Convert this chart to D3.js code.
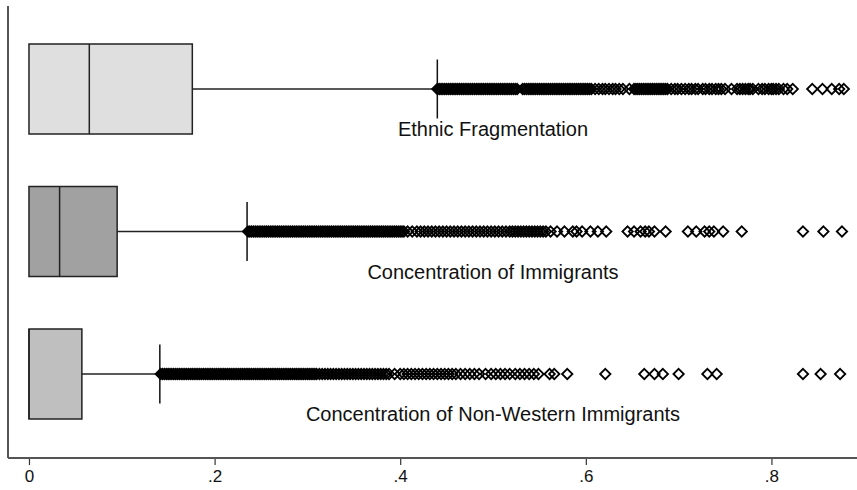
<!DOCTYPE html>
<html>
<head>
<meta charset="utf-8">
<script src="https://cdn.jsdelivr.net/npm/d3@7"></script>
<style>
  body { margin: 0; background: #fff; }
  svg { display: block; font-family: 'Liberation Sans', Arial, sans-serif; }
</style>
</head>
<body>
<div id="root"></div>
<script>
// ---------------------------------------------------------------- data
const categories = ['Ethnic Fragmentation', 'Concentration of Immigrants', 'Concentration of Non-Western Immigrants'];
const q1 = [0, 0, 0];
const median = [0.065, 0.033, 0];
const q3 = [0.176, 0.095, 0.057];
const upperWhisker = [0.440, 0.235, 0.141];
const xTicks = [0, 0.2, 0.4, 0.6, 0.8];
const xTickLabels = ['0', '.2', '.4', '.6', '.8'];

const outliersEthnic = [
  0.440, 0.442, 0.444, 0.446, 0.448, 0.450, 0.452, 0.454, 0.456, 0.458, 0.460, 0.462,
  0.464, 0.466, 0.468, 0.470, 0.472, 0.474, 0.476, 0.478, 0.480, 0.482, 0.484, 0.486,
  0.488, 0.490, 0.492, 0.494, 0.496, 0.498, 0.500, 0.502, 0.504, 0.506, 0.508, 0.510,
  0.512, 0.514, 0.516, 0.518, 0.520, 0.522, 0.524, 0.526, 0.532, 0.534, 0.536, 0.538,
  0.540, 0.542, 0.544, 0.546, 0.548, 0.550, 0.552, 0.554, 0.556, 0.558, 0.560, 0.562,
  0.564, 0.566, 0.568, 0.570, 0.572, 0.574, 0.576, 0.578, 0.580, 0.582, 0.584, 0.586,
  0.588, 0.590, 0.592, 0.594, 0.596, 0.598, 0.600, 0.602, 0.604, 0.606, 0.610, 0.614,
  0.618, 0.621, 0.625, 0.629, 0.632, 0.636, 0.640, 0.647, 0.652, 0.654, 0.656, 0.658,
  0.660, 0.662, 0.664, 0.666, 0.668, 0.670, 0.672, 0.674, 0.676, 0.678, 0.680, 0.682,
  0.684, 0.686, 0.688, 0.692, 0.696, 0.699, 0.703, 0.707, 0.711, 0.714, 0.718, 0.721,
  0.726, 0.729, 0.733, 0.736, 0.740, 0.743, 0.746, 0.750, 0.757, 0.763, 0.766, 0.769,
  0.772, 0.775, 0.777, 0.780, 0.786, 0.790, 0.793, 0.797, 0.800, 0.802, 0.805, 0.808,
  0.813, 0.817, 0.823, 0.844, 0.855, 0.865, 0.873, 0.878
];
const outliersImmigrants = [
  0.236, 0.238, 0.240, 0.242, 0.244, 0.246, 0.248, 0.250, 0.252, 0.254, 0.256, 0.258,
  0.260, 0.262, 0.264, 0.266, 0.268, 0.270, 0.272, 0.274, 0.276, 0.278, 0.280, 0.282,
  0.284, 0.286, 0.288, 0.290, 0.292, 0.294, 0.296, 0.298, 0.300, 0.302, 0.304, 0.306,
  0.308, 0.310, 0.312, 0.314, 0.316, 0.318, 0.320, 0.322, 0.324, 0.326, 0.328, 0.330,
  0.332, 0.334, 0.336, 0.338, 0.340, 0.342, 0.344, 0.346, 0.348, 0.350, 0.352, 0.354,
  0.356, 0.358, 0.360, 0.362, 0.364, 0.366, 0.368, 0.370, 0.372, 0.374, 0.376, 0.378,
  0.380, 0.382, 0.384, 0.386, 0.388, 0.390, 0.392, 0.394, 0.396, 0.398, 0.400, 0.402,
  0.404, 0.408, 0.413, 0.418, 0.422, 0.426, 0.430, 0.434, 0.438, 0.442, 0.446, 0.450,
  0.454, 0.458, 0.462, 0.466, 0.470, 0.474, 0.478, 0.482, 0.486, 0.490, 0.494, 0.498,
  0.502, 0.506, 0.510, 0.514, 0.518, 0.521, 0.524, 0.527, 0.530, 0.533, 0.536, 0.539,
  0.542, 0.545, 0.548, 0.551, 0.554, 0.557, 0.562, 0.569, 0.577, 0.586, 0.590, 0.596,
  0.605, 0.613, 0.622, 0.645, 0.652, 0.659, 0.664, 0.668, 0.674, 0.686, 0.710, 0.719,
  0.728, 0.733, 0.738, 0.748, 0.768, 0.834, 0.856, 0.876
];
const outliersNonWestern = [
  0.142, 0.144, 0.146, 0.148, 0.150, 0.152, 0.154, 0.156, 0.158, 0.160, 0.162, 0.164,
  0.166, 0.168, 0.170, 0.172, 0.174, 0.176, 0.178, 0.180, 0.182, 0.184, 0.186, 0.188,
  0.190, 0.192, 0.194, 0.196, 0.198, 0.200, 0.202, 0.204, 0.206, 0.208, 0.210, 0.212,
  0.214, 0.216, 0.218, 0.220, 0.222, 0.224, 0.226, 0.228, 0.230, 0.232, 0.234, 0.236,
  0.238, 0.240, 0.242, 0.244, 0.246, 0.248, 0.250, 0.252, 0.254, 0.256, 0.258, 0.260,
  0.262, 0.264, 0.266, 0.268, 0.270, 0.272, 0.274, 0.276, 0.278, 0.280, 0.282, 0.284,
  0.286, 0.288, 0.290, 0.292, 0.294, 0.296, 0.298, 0.300, 0.302, 0.304, 0.306, 0.308,
  0.310, 0.313, 0.316, 0.319, 0.322, 0.325, 0.328, 0.331, 0.334, 0.337, 0.340, 0.343,
  0.346, 0.349, 0.352, 0.355, 0.358, 0.361, 0.364, 0.367, 0.370, 0.373, 0.376, 0.379,
  0.382, 0.385, 0.388, 0.394, 0.400, 0.404, 0.408, 0.412, 0.416, 0.420, 0.424, 0.428,
  0.432, 0.436, 0.440, 0.444, 0.448, 0.452, 0.456, 0.460, 0.465, 0.470, 0.475, 0.480,
  0.485, 0.492, 0.498, 0.503, 0.508, 0.513, 0.518, 0.524, 0.529, 0.534, 0.539, 0.544,
  0.549, 0.561, 0.566, 0.580, 0.621, 0.663, 0.674, 0.683, 0.700, 0.731, 0.741, 0.834,
  0.853, 0.874
];
const outliers = [outliersEthnic, outliersImmigrants, outliersNonWestern];
const boxFill = ['#dfdfdf', '#a1a1a1', '#bfbfbf'];

//-----------------------------------------------------------------------
const width = 857;
const height = 490;
const plotLeft = 8;
const plotRight = 857;
const plotTop = 6;
const plotBottom = 458;
const boxHeight = 90;
const capHeight = 59;

const svg = d3.select('#root')
  .append('svg')
  .attr('width', width)
  .attr('height', height);

svg.append('rect')
  .attr('width', width)
  .attr('height', height)
  .attr('fill', '#fff');

const xScale = d3.scaleLinear()
  .domain([-0.0226, 0.8922])
  .range([plotLeft, plotRight]);

const yScale = d3.scalePoint()
  .domain(categories)
  .range([89, 374]);

// axes
svg.append('line')
  .attr('x1', plotLeft).attr('x2', plotLeft)
  .attr('y1', plotTop).attr('y2', plotBottom)
  .attr('stroke', '#555').attr('stroke-width', 2);

const xAxis = d3.axisBottom(xScale)
  .tickValues(xTicks)
  .tickSize(7)
  .tickPadding(5)
  .tickFormat((d, i) => xTickLabels[i]);

const xAxisG = svg.append('g')
  .attr('transform', `translate(0, ${plotBottom})`)
  .call(xAxis);
xAxisG.select('.domain').remove();
xAxisG.selectAll('.tick line').attr('stroke', '#333').attr('stroke-width', 1.2);
xAxisG.selectAll('.tick text')
  .attr('fill', '#111')
  .style('font-size', '17px')
  .style('font-family', "'Liberation Sans', Arial, sans-serif");

svg.append('line')
  .attr('x1', plotLeft).attr('x2', plotRight)
  .attr('y1', plotBottom).attr('y2', plotBottom)
  .attr('stroke', '#555').attr('stroke-width', 2);

// boxes
const groups = svg.selectAll('g.box')
  .data(categories)
  .enter()
  .append('g')
  .attr('class', 'box')
  .attr('transform', (d) => `translate(0, ${yScale(d)})`);

groups.append('line')
  .attr('x1', (d, i) => xScale(q3[i]))
  .attr('x2', (d, i) => xScale(upperWhisker[i]))
  .attr('y1', 0).attr('y2', 0)
  .attr('stroke', '#222').attr('stroke-width', 1.3);

groups.append('line')
  .attr('x1', (d, i) => xScale(upperWhisker[i]))
  .attr('x2', (d, i) => xScale(upperWhisker[i]))
  .attr('y1', -capHeight / 2).attr('y2', capHeight / 2)
  .attr('stroke', '#111').attr('stroke-width', 1.5);

groups.append('rect')
  .attr('x', (d, i) => xScale(q1[i]))
  .attr('y', -boxHeight / 2)
  .attr('width', (d, i) => xScale(q3[i]) - xScale(q1[i]))
  .attr('height', boxHeight)
  .attr('fill', (d, i) => boxFill[i])
  .attr('stroke', '#222')
  .attr('stroke-width', 1.5);

groups.append('line')
  .attr('x1', (d, i) => xScale(median[i]))
  .attr('x2', (d, i) => xScale(median[i]))
  .attr('y1', -boxHeight / 2).attr('y2', boxHeight / 2)
  .attr('stroke', '#222').attr('stroke-width', 1.5);

const diamond = 'M0,-5.2L5.2,0L0,5.2L-5.2,0Z';
groups.each(function (d, i) {
  d3.select(this).selectAll('path.outlier')
    .data(outliers[i])
    .enter()
    .append('path')
    .attr('class', 'outlier')
    .attr('d', diamond)
    .attr('transform', (v) => `translate(${xScale(v)}, 0)`)
    .attr('fill', 'none')
    .attr('stroke', '#000')
    .attr('stroke-width', 1.8);
});

groups.append('text')
  .attr('x', xScale(0.5))
  .attr('y', 47)
  .attr('text-anchor', 'middle')
  .style('font-size', '20px')
  .attr('fill', '#111')
  .text((d) => d);
</script>
</body>
</html>
